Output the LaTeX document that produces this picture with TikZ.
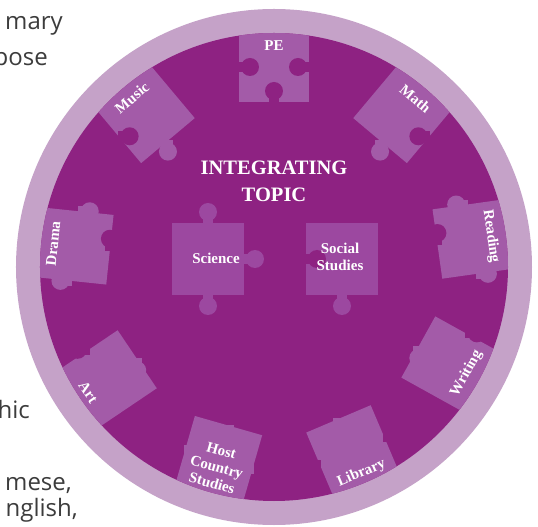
\documentclass[tikz,border=0pt]{standalone}
\usepackage{fontspec}
\setmainfont{Liberation Serif}
\newfontfamily\bodyfont{Open Sans}

\begin{document}
\begin{tikzpicture}
	[x=1pt,y=1pt,
	%Styles
	tile/.style={fill=tilecolor},
	core tile/.style={fill=corecolor},
	knob/.pic={\fill[pic actions] (-5,1) rectangle (5,-11); \fill[pic actions] (0,-11) circle (9);},
	hole/.pic={\fill[disccolor] (-5,-1) rectangle (5,11); \fill[disccolor] (0,11) circle (9);},
	subject/.style={text=white,font=\bfseries\fontsize{15}{17}\selectfont,align=center,inner sep=0pt},
	title/.style={text=white,font=\bfseries\fontsize{20.5}{27}\selectfont,align=center,inner sep=0pt},
	page text/.style={text=pagegray,font=\bodyfont\fontsize{24}{24}\selectfont,anchor=base east,inner sep=0pt}
	]
	
	%Colors
	\definecolor{ringcolor}{RGB}{197,162,200}
	\definecolor{disccolor}{RGB}{142,34,130}
	\definecolor{tilecolor}{RGB}{163,91,168}
	\definecolor{corecolor}{RGB}{156,72,160}
	\definecolor{pagegray}{RGB}{60,60,60}
	
	\useasboundingbox (-274,-260) rectangle (264,267);
	
	%Text of the page
	\node[page text] (line1) at (-211,237) {mary};
	\node[page text] (line2) at (-226,201) {pose};
	\node[page text] (line3) at (-244,-151) {hic};
	\node[page text] (line4) at (-202,-223) {mese,};
	\node[page text] (line5) at (-196,-249) {nglish,};
	
	%The wheel
	\fill[ringcolor] (0,0) circle (258);
	\fill[disccolor] (0,0) circle (234);
	
	%Rim pieces
	\begin{scope}
		\clip (0,0) circle (234);
		% PE
		\begin{scope}[shift={(90:200)},rotate=0]
			\fill[tile] (-35,-35) rectangle (35,45);
			\pic[rotate=-90] at (-35,0) {hole};
			\pic at (0,-35) {hole};
			\pic[rotate=90] at (35,0) {hole};
		\end{scope}
		% Math
		\begin{scope}[shift={(50:200)},rotate=-40]
			\fill[tile] (-35,-35) rectangle (35,45);
			\pic[tile] at (0,-35) {knob};
			\pic[rotate=90] at (35,0) {hole};
		\end{scope}
		% Reading
		\begin{scope}[shift={(8:200)},rotate=-82]
			\fill[tile] (-35,-35) rectangle (35,45);
			\pic[tile,rotate=-90] at (-35,0) {knob};
			\pic at (0,-35) {hole};
			\pic[tile,rotate=90] at (35,0) {knob};
		\end{scope}
		% Writing
		\begin{scope}[shift={(-29:200)},rotate=-119]
			\fill[tile] (-35,-35) rectangle (35,45);
			\pic[rotate=-90] at (-35,0) {hole};
			\pic[tile] at (0,-35) {knob};
		\end{scope}
		% Library
		\begin{scope}[shift={(-67:200)},rotate=-157]
			\fill[tile] (-35,-35) rectangle (35,45);
			\pic[rotate=-90] at (-35,0) {hole};
			\pic[tile] at (0,-35) {knob};
			\pic[rotate=90] at (35,0) {hole};
		\end{scope}
		% Host Country Studies
		\begin{scope}[shift={(-106:200)},rotate=-196]
			\fill[tile] (-35,-35) rectangle (35,45);
			\pic[tile,rotate=-90] at (-35,0) {knob};
			\pic[tile] at (0,-35) {knob};
			\pic[tile,rotate=90] at (35,0) {knob};
		\end{scope}
		% Art
		\begin{scope}[shift={(-146:200)},rotate=-236]
			\fill[tile] (-35,-35) rectangle (35,45);
			\pic[tile] at (0,-35) {knob};
			\pic[rotate=90] at (35,0) {hole};
		\end{scope}
		% Drama
		\begin{scope}[shift={(174:200)},rotate=84]
			\fill[tile] (-35,-35) rectangle (35,45);
			\pic[tile,rotate=-90] at (-35,0) {knob};
			\pic at (0,-35) {hole};
			\pic[tile,rotate=90] at (35,0) {knob};
		\end{scope}
		% Music
		\begin{scope}[shift={(130:200)},rotate=40]
			\fill[tile] (-35,-35) rectangle (35,45);
			\pic[rotate=-90] at (-35,0) {hole};
			\pic[tile] at (0,-35) {knob};
		\end{scope}
	\end{scope}
	
	%Centre pieces
	\begin{scope}[shift={(-66,8)}]
		\fill[core tile] (-36,-36) rectangle (36,36);
		\pic[core tile,rotate=180] at (0,36) {knob};
		\pic[core tile] at (0,-36) {knob};
		\pic[core tile,rotate=90] at (36,0) {knob};
	\end{scope}
	\begin{scope}[shift={(68,8)}]
		\fill[core tile] (-36,-36) rectangle (36,36);
		\pic[rotate=-90] at (-36,0) {hole};
		\pic[core tile] at (0,-36) {knob};
	\end{scope}
	
	%Labels
	\node[title] (topic) at (0,86) {INTEGRATING\\TOPIC};
	\node[subject] (science) at (-58,9) {Science};
	\node[subject] (social) at (66,10) {Social\\Studies};
	
	\node[subject] (pe) at (90:221) {PE};
	\node[subject,rotate=-40] (math) at (50:220) {Math};
	\node[subject,rotate=-82] (reading) at (8:219) {Reading};
	\node[subject,rotate=61] (writing) at (-29:220) {Writing};
	\node[subject,rotate=23] (library) at (-67:224) {Library};
	\node[subject,rotate=-16] (host) at (-106:208) {Host\\Country\\Studies};
	\node[subject,rotate=-56] (art) at (-146:224) {Art};
	\node[subject,rotate=84] (drama) at (174:222) {Drama};
	\node[subject,rotate=40] (music) at (130:221) {Music};
\end{tikzpicture}
\end{document}
